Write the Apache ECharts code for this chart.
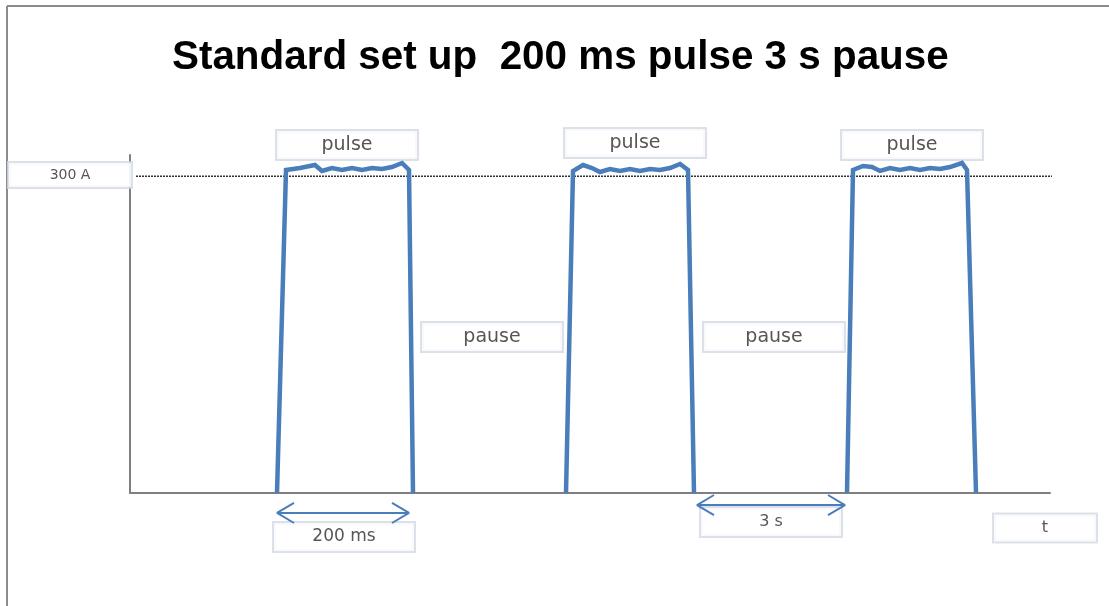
<!DOCTYPE html>
<html>
<head>
<meta charset="utf-8">
<script src="https://cdn.jsdelivr.net/npm/echarts@6/dist/echarts.min.js"></script>
<style>html,body{margin:0;padding:0;background:#fff;}#c{width:1109px;height:606px;}</style>
</head>
<body>
<div id="c"></div>
<script>
// ---- data (x: arbitrary time units, y: current in A) ----
const titleText = 'Standard set up  200 ms pulse 3 s pause';
const refLevel = 300;
const refLine = [[6, refLevel], [928, refLevel]];
const pulse1 = [[147,0],[156,305.8],[170,307.7],[185,310.5],[192,304.9],[202,307.7],[212,305.8],[222,307.7],[232,305.8],[242,307.7],[252,306.7],[262,308.6],[272,312.4],[279,305.8],[283,0]];
const pulse2 = [[436,0],[443,304.9],[453,310.5],[462,307.7],[470,303.9],[480,306.7],[490,304.9],[500,306.7],[510,304.9],[520,306.7],[530,305.8],[540,307.7],[550,311.5],[558,305.8],[564,0]];
const pulse3 = [[717,0],[723,305.8],[733,309.6],[742,308.6],[750,304.9],[760,307.7],[770,305.8],[780,307.7],[790,305.8],[800,307.7],[810,306.7],[820,308.6],[832,312.4],[837,305.8],[846,0]];
const arrowFrom = [147, 567];
const arrowTo = [279, 715];
const arrowY = [-18.9, -11.4];
const boxLabels = ['pulse','pulse','pulse','pause','pause','300 A','200 ms','3 s','t'];
const boxX = [217, 505, 782, 362, 644, -60, 214, 641, 915];
const boxY = [329.5, 331.4, 329.5, 147.7, 147.7, 301, -41.7, -27.5, -33.1];

// ---- build ----
const BLUE = '#4a7ebb';
const headDx = 17, headDy = 9.5;
const arrowData = [];
for (let i = 0; i < arrowFrom.length; i++) {
  const a = arrowFrom[i], b = arrowTo[i], y = arrowY[i];
  arrowData.push([a, y], [b, y], null);
  arrowData.push([a + headDx, y + headDy], [a, y], [a + headDx, y - headDy], null);
  arrowData.push([b - headDx, y + headDy], [b, y], [b - headDx, y - headDy], null);
}
function boxStyle(t) {
  let w = 140, h = 28, fs = 19;
  if (t === '300 A') { w = 122; h = 24; fs = 14; }
  else if (t === 't') { w = 102; h = 27; fs = 16; }
  else if (t === '200 ms') { fs = 17; }
  else if (t === '3 s') { fs = 16; }
  return {
    show: true, position: 'inside', formatter: t,
    backgroundColor: '#ffffff', borderColor: '#d3d9e4', borderWidth: 2,
    width: w, height: h, lineHeight: h, padding: 0,
    align: 'center', verticalAlign: 'middle',
    color: '#2a2a2a', fontSize: fs, fontFamily: 'DejaVu Sans'
  };
}
const boxData = boxLabels.map((t, i) => ({ value: [boxX[i], boxY[i]], label: boxStyle(t) }));

const pulseSeries = [pulse1, pulse2, pulse3].map(p => ({
  type: 'line', data: p, symbol: 'none', clip: false, z: 4,
  lineStyle: { color: BLUE, width: 4.5, join: 'miter' }
}));

const chart = echarts.init(document.getElementById('c'), null, { renderer: 'canvas' });
chart.setOption({
  animation: false,
  backgroundColor: '#ffffff',
  title: {
    text: titleText, left: 167, top: 33,
    textStyle: { fontSize: 40.4, fontWeight: 'bold', color: '#000', fontFamily: "'Liberation Sans Narrow', 'Liberation Sans', sans-serif" }
  },
  graphic: [
    { type: 'line', shape: { x1: 7, y1: 6, x2: 7, y2: 606 }, style: { stroke: '#8c8c8c', lineWidth: 2 } },
    { type: 'line', shape: { x1: 7, y1: 6, x2: 1109, y2: 6 }, style: { stroke: '#8c8c8c', lineWidth: 2 } }
  ],
  grid: { left: 130, right: 59, top: 155, bottom: 113 },
  xAxis: {
    type: 'value', min: 0, max: 920,
    axisLine: { show: true, lineStyle: { color: '#7f7f7f', width: 2 } },
    axisTick: { show: false }, axisLabel: { show: false }, splitLine: { show: false }
  },
  yAxis: {
    type: 'value', min: 0, max: 320,
    axisLine: { show: true, lineStyle: { color: '#7f7f7f', width: 2 } },
    axisTick: { show: false }, axisLabel: { show: false }, splitLine: { show: false }
  },
  series: [
    { type: 'line', data: refLine, symbol: 'none', clip: false, z: 2,
      lineStyle: { color: '#303030', width: 1.5, type: [2, 1] } },
    ...pulseSeries,
    { type: 'scatter', data: boxData, symbolSize: 1, clip: false, z: 3,
      itemStyle: { color: 'rgba(0,0,0,0)' } },
    { type: 'line', data: arrowData, symbol: 'none', clip: false, connectNulls: false, z: 5,
      lineStyle: { color: BLUE, width: 2 } }
  ]
});
</script>
</body>
</html>
